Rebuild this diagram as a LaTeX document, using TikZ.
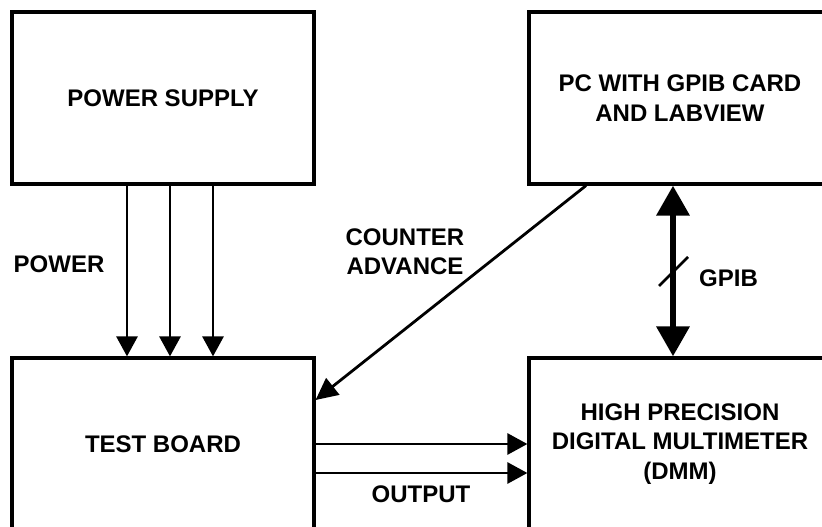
\documentclass[tikz,border=0pt]{standalone}
\usepackage{fontspec}
\setmainfont{Liberation Sans}
\usetikzlibrary{arrows.meta,calc}
\begin{document}
\begin{tikzpicture}[x=1pt,y=-1pt,
  block/.style={draw, line width=3.2pt, minimum width=302pt, minimum height=172pt,
    align=center, inner sep=0pt, font=\fontsize{24}{29.5}\selectfont\bfseries},
  sig/.style={line width=2.8pt, -{Triangle[length=20pt,width=21pt]}},
  bus/.style={line width=6.5pt,
    {Triangle[length=30pt,width=32pt]}-{Triangle[length=30pt,width=32pt]}},
  lbl/.style={align=center, inner sep=0pt, font=\fontsize{24}{29}\selectfont\bfseries}]
\useasboundingbox (0,0) rectangle (822,527);
\clip (0,0) rectangle (822,527);

% instruments
\node[block] (ps)  at (163,98)  {POWER SUPPLY};
\node[block] (pc)  at (680,98)  {PC WITH GPIB CARD\\AND LABVIEW};
\node[block] (tb)  at (163,444) {TEST BOARD};
\node[block] (dmm) at (680,444) {HIGH PRECISION\\DIGITAL MULTIMETER\\(DMM)};

% supply rails
\foreach \x in {127,170,213}
  \draw[sig] (ps.south -| \x,0) -- (tb.north -| \x,0);
\node[lbl] (pwr) at (59,264) {POWER};

% counter advance line
\draw[sig, -{Triangle[length=22pt,width=21pt]}] (pc.south -| 586,0) -- (tb.east |- 0,400);
\node[lbl] (cnt) at (405,252) {COUNTER\\ADVANCE};

% GPIB bus
\draw[bus] (pc.south -| 673,0) -- (dmm.north -| 673,0);
\coordinate (slash) at (673.5,271.5);
\draw[line width=2.8pt] ($(slash)+(-14.5,14.5)$) -- ($(slash)+(14.5,-14.5)$);
\node[lbl, anchor=west] (gpib) at (699,278) {GPIB};

% measured outputs
\draw[sig] (tb.east |- 0,444) -- (dmm.west |- 0,444);
\draw[sig] (tb.east |- 0,473) -- (dmm.west |- 0,473);
\node[lbl] (out) at (421,494) {OUTPUT};
\end{tikzpicture}
\end{document}
